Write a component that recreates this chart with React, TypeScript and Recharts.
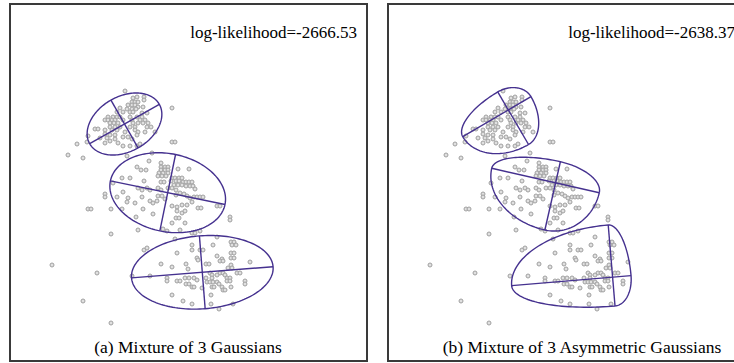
import React from 'react'
import { Scatter, ScatterChart, XAxis, YAxis } from 'recharts'

// observed samples, same set in both panels (data units, y up)
const samples: [number, number][] = [
  // upper group
  [115, 270], [123, 263], [127, 264], [134, 264], [134, 261], [122, 259], [125, 259], [128, 259],
  [118, 256], [122, 256], [125, 256], [128, 254], [133, 254], [110, 253], [117, 252], [122, 252],
  [126, 252], [107, 249], [113, 249], [120, 249], [123, 249], [132, 248], [137, 248], [98, 244],
  [103, 244], [107, 244], [110, 244], [120, 244], [127, 244], [132, 244], [95, 241], [98, 241],
  [102, 241], [105, 241], [113, 241], [122, 241], [130, 241], [135, 241], [100, 238], [104, 238],
  [108, 238], [123, 238], [128, 238], [133, 238], [138, 238], [85, 232], [88, 232], [100, 234],
  [105, 234], [110, 234], [120, 234], [125, 234], [137, 234], [141, 234], [95, 231], [102, 231],
  [107, 231], [115, 229], [125, 231], [128, 229], [135, 229], [145, 229], [78, 225], [95, 227],
  [100, 226], [105, 226], [113, 224], [118, 224], [127, 226], [90, 223], [97, 223], [105, 222],
  [122, 222], [77, 219], [95, 218], [100, 220], [108, 218], [113, 215], [120, 215], [127, 215],
  [130, 217], [67, 217], [58, 206], [73, 203], [162, 253], [162, 219], [165, 219], [117, 205],
  // middle group
  [142, 208], [139, 200], [151, 198], [127, 194], [131, 191], [136, 191], [168, 192], [179, 192],
  [151, 194], [155, 194], [158, 194], [151, 191], [155, 191], [158, 191], [149, 188], [153, 188],
  [158, 188], [148, 185], [152, 185], [156, 185], [162, 183], [165, 183], [169, 183], [172, 183],
  [161, 180], [166, 180], [169, 180], [173, 179], [176, 179], [179, 179], [182, 179], [164, 176],
  [168, 176], [172, 176], [176, 175], [180, 175], [183, 175], [185, 172], [112, 183], [120, 183],
  [134, 180], [151, 179], [154, 179], [103, 178], [158, 173], [162, 173], [166, 171], [128, 173],
  [132, 171], [137, 173], [140, 171], [148, 173], [151, 171], [113, 169], [95, 167], [95, 164],
  [107, 164], [118, 163], [132, 164], [148, 165], [152, 165], [155, 162], [170, 168], [174, 167],
  [177, 165], [180, 163], [184, 164], [187, 164], [190, 164], [193, 164], [166, 166], [117, 159],
  [125, 158], [140, 160], [143, 158], [147, 160], [162, 155], [167, 154], [172, 156], [177, 156],
  [182, 159], [188, 153], [191, 153], [78, 152], [81, 152], [101, 152], [112, 152], [133, 152],
  [126, 144], [143, 147], [167, 150], [172, 148], [175, 150], [207, 155], [210, 155], [220, 144],
  [220, 141], [162, 138], [175, 138], [166, 143], [169, 143], [128, 131], [153, 132], [170, 131],
  [190, 130], [101, 127],
  // lower group
  [157, 130], [182, 128], [185, 128], [165, 122], [207, 124], [221, 119], [224, 119], [222, 116],
  [226, 116], [182, 116], [203, 116], [134, 111], [137, 113], [182, 111], [190, 111], [193, 111],
  [167, 108], [221, 108], [224, 108], [207, 105], [187, 103], [188, 101], [212, 102], [210, 100],
  [213, 100], [221, 103], [224, 103], [240, 99], [151, 97], [176, 97], [196, 97], [199, 97],
  [162, 94], [218, 93], [221, 96], [222, 93], [178, 92], [200, 88], [202, 86], [210, 88],
  [213, 88], [215, 86], [227, 88], [230, 88], [207, 86], [122, 85], [140, 85], [157, 83],
  [157, 80], [175, 83], [179, 83], [184, 83], [196, 83], [202, 83], [217, 83], [220, 83],
  [217, 80], [220, 80], [167, 80], [170, 80], [187, 81], [197, 79], [200, 79], [203, 79],
  [207, 79], [176, 77], [179, 77], [182, 74], [184, 74], [202, 74], [204, 74], [209, 77],
  [212, 74], [213, 71], [215, 71], [221, 74], [235, 80], [235, 77], [192, 73], [162, 66],
  [201, 66], [173, 60], [182, 57], [201, 57], [223, 57], [209, 52],
  [42, 96], [87, 88], [73, 60], [101, 38]
]

// fitted components: centre, rotation (deg), semi-axes on each side of the principal axes
type Component = { cx: number; cy: number; angle: number; ap: number; am: number; bp: number; bm: number }

const gaussians: Component[] = [
  { cx: 114.5, cy: 237, angle: 29.5, ap: 40, am: 40, bp: 27.5, bm: 27.5 },
  { cx: 157.7, cy: 168.3, angle: -11.6, ap: 58.5, am: 58.5, bp: 39, bm: 39 },
  { cx: 192.3, cy: 88.7, angle: 4.5, ap: 71, am: 71, bp: 36.5, bm: 36.5 }
]

const asymGaussians: Component[] = [
  { cx: 120.3, cy: 251, angle: 30.4, ap: 26.3, am: 52.8, bp: 20.9, bm: 40 },
  { cx: 167.6, cy: 178.2, angle: -12.8, ap: 44.8, am: 65.5, bp: 21.6, bm: 48.4 },
  { cx: 224.6, cy: 83.8, angle: 4.8, ap: 18.5, am: 101.3, bp: 52.4, bm: 28.9 }
]

const likelihoods = ['log-likelihood=-2666.53', 'log-likelihood=-2638.37']
const captions = ['(a) Mixture of 3 Gaussians', '(b) Mixture of 3 Asymmetric Gaussians']

const SIZE = 357
const PURPLE = '#45318f'
const FONT = "'Liberation Serif', Tinos, 'Times New Roman', Times, 'DejaVu Serif', 'Noto Serif', serif"

const points = samples.map(([x, y]) => ({ x, y }))

const outline = (c: Component) => {
  const th = (c.angle * Math.PI) / 180
  const u = [Math.cos(th), Math.sin(th)]
  const v = [-Math.sin(th), Math.cos(th)]
  const pts = []
  for (let i = 0; i <= 160; i++) {
    const t = (2 * Math.PI * i) / 160
    const ct = Math.cos(t)
    const st = Math.sin(t)
    const a = ct >= 0 ? c.ap : c.am
    const b = st >= 0 ? c.bp : c.bm
    pts.push({ x: c.cx + a * ct * u[0] + b * st * v[0], y: c.cy + a * ct * u[1] + b * st * v[1] })
  }
  return pts
}

const axes = (c: Component) => {
  const th = (c.angle * Math.PI) / 180
  const u = [Math.cos(th), Math.sin(th)]
  const v = [-Math.sin(th), Math.cos(th)]
  return [
    [
      { x: c.cx - c.am * u[0], y: c.cy - c.am * u[1] },
      { x: c.cx + c.ap * u[0], y: c.cy + c.ap * u[1] }
    ],
    [
      { x: c.cx - c.bm * v[0], y: c.cy - c.bm * v[1] },
      { x: c.cx + c.bp * v[0], y: c.cy + c.bp * v[1] }
    ]
  ]
}

const Dot = (p: any) => (
  <circle cx={p.cx} cy={p.cy} r={2} fill='#e0e0e0' stroke='#a0a0a0' strokeWidth={1} />
)
const NoDot = () => <g />

const Panel = ({ left, comps, likelihood, caption, captionCenter }: any) => {
  const lines: { x: number; y: number }[][] = []
  comps.forEach((c: Component) => {
    lines.push(outline(c))
    axes(c).forEach((seg) => lines.push(seg))
  })
  return (
    <>
      <div
        style={{
          position: 'absolute',
          left: left - 1,
          top: 3,
          width: SIZE + 2,
          height: SIZE + 2,
          border: '2px solid #3a3a3a',
          boxSizing: 'border-box'
        }}
      />
      <div style={{ position: 'absolute', left, top: 4 }}>
        <ScatterChart width={SIZE} height={SIZE} margin={{ top: 0, right: 0, bottom: 0, left: 0 }}>
          <XAxis type='number' dataKey='x' domain={[0, SIZE]} hide />
          <YAxis type='number' dataKey='y' domain={[0, SIZE]} hide />
          <Scatter data={points} shape={Dot} isAnimationActive={false} />
          {lines.map((d, i) => (
            <Scatter
              key={i}
              data={d}
              shape={NoDot}
              line={{ stroke: PURPLE, strokeWidth: 1.4 }}
              isAnimationActive={false}
            />
          ))}
        </ScatterChart>
      </div>
      <div
        style={{
          position: 'absolute',
          left,
          width: SIZE - 10,
          top: 24,
          textAlign: 'right',
          fontSize: 17,
          lineHeight: '17px',
          whiteSpace: 'nowrap'
        }}>
        {likelihood}
      </div>
      <div
        style={{
          position: 'absolute',
          left: captionCenter - 200,
          width: 400,
          top: 339,
          textAlign: 'center',
          fontSize: 17.5,
          lineHeight: '17.5px',
          whiteSpace: 'nowrap'
        }}>
        {caption}
      </div>
    </>
  )
}

const App = () => {
  return (
    <div
      style={{
        position: 'absolute',
        left: 0,
        top: 0,
        width: 734,
        height: 363,
        overflow: 'hidden',
        background: '#fff',
        fontFamily: FONT,
        color: '#000'
      }}>
      <Panel left={10} comps={gaussians} likelihood={likelihoods[0]} caption={captions[0]} captionCenter={188} />
      <Panel left={388} comps={asymGaussians} likelihood={likelihoods[1]} caption={captions[1]} captionCenter={582} />
    </div>
  )
}

export default App
